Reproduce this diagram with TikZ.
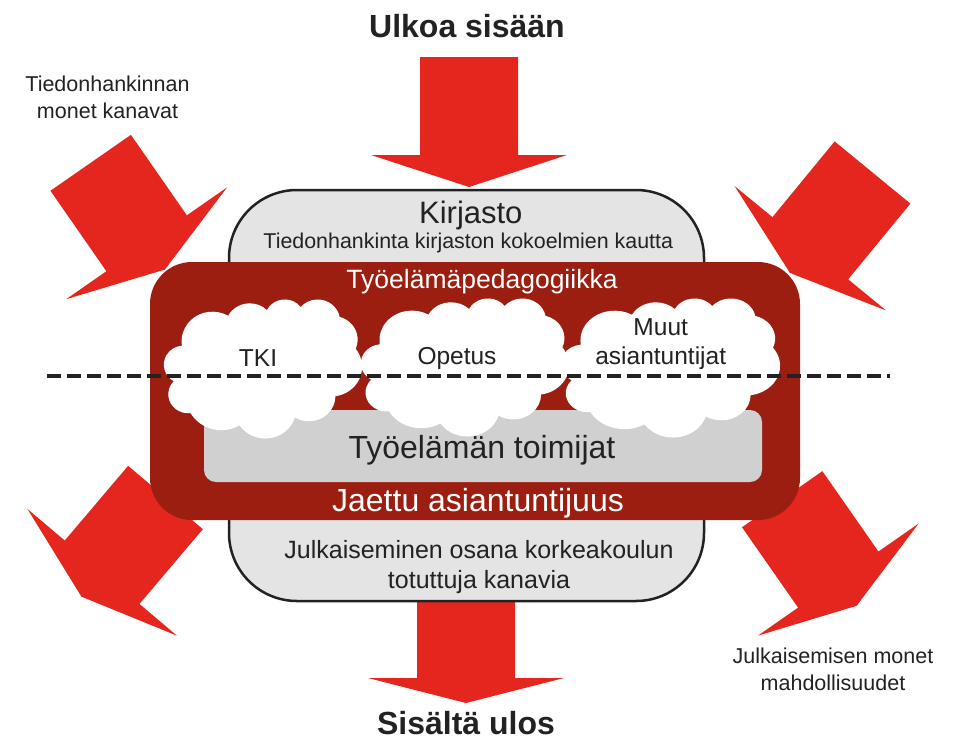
\documentclass[tikz,border=0pt]{standalone}
\usepackage{fontspec}
\setmainfont{Liberation Sans}
\definecolor{arrowred}{HTML}{E5261E}
\definecolor{darkred}{HTML}{9B1E10}
\definecolor{lightbox}{HTML}{E4E4E4}
\definecolor{innergray}{HTML}{D0D0D0}
\definecolor{ink}{HTML}{222222}
\tikzset{
  bigarrow/.style={fill=arrowred, draw=none},
  txt/.style={text=ink, inner sep=0pt, anchor=base},
  wtxt/.style={text=white, inner sep=0pt, anchor=base},
  cloudfill/.style={fill=white, draw=none},
  dashline/.style={draw=ink, line width=4.5pt, dash pattern=on 14pt off 6pt},
}
\newcommand{\fs}[1]{\fontsize{#1}{#1}\selectfont}
% arrow: tail centre (#1,#2), rotation #3, head height #4
\newcommand{\redarrow}[4]{%
  \begin{scope}[shift={(#1,#2)}, rotate=#3]
    \fill[bigarrow] (0,-49) -- (98,-49) -- (98,-98) -- (98+#4,0) -- (98,98) -- (98,49) -- (0,49) -- cycle;
  \end{scope}}
% cloud: top-left corner (#1,#2), width/100 #3, height/100 #4
\newcommand{\drawcloud}[4]{%
  \begin{scope}[shift={(#1,#2)}, x=#3pt, y=-#4pt]
    \fill[cloudfill] (9.028,33.264)
      arc[start angle=-187.75, end angle=-59.64, x radius=15.632, y radius=21.273]
      arc[start angle=-152.02, end angle=-45.45, x radius=12.345, y radius=16.822]
      arc[start angle=-153.49, end angle=-37.33, x radius=10.104, y radius=13.762]
      arc[start angle=-139.71, end angle=-10.22, x radius=11.243, y radius=15.266]
      arc[start angle=-74.77, end angle=23.21, x radius=12.345, y radius=16.836]
      arc[start angle=-37.53, end angle=81.86, x radius=15.683, y radius=21.343]
      arc[start angle=0.46, end angle=121.98, x radius=13.391, y radius=18.211]
      arc[start angle=16.84, end angle=146.24, x radius=15.630, y radius=21.331]
      arc[start angle=58.98, end angle=150.18, x radius=17.870, y radius=24.405]
      arc[start angle=-276.69, end angle=-136.88, x radius=10.093, y radius=13.699]
      arc[start angle=-239.65, end angle=-95.89, x radius=10.058, y radius=13.762]
      -- cycle;
  \end{scope}}
\begin{document}
\begin{tikzpicture}[x=1pt, y=-1pt]
\useasboundingbox (0,0) rectangle (953,740);
% arrows
\redarrow{469}{57}{-90}{32}
\redarrow{466}{580}{-90}{25}
\redarrow{90.7}{162.8}{-55.2}{32}
\redarrow{872.5}{172.5}{-129.4}{32}
\redarrow{165.5}{497.5}{-130.3}{32}
\redarrow{782.2}{499.2}{-55.1}{32}
% boxes
\draw[fill=lightbox, draw=ink, line width=2.5pt, rounded corners=68pt] (229,190) rectangle (704,601);
\fill[darkred, rounded corners=42pt] (150,262) rectangle (800,520);
\fill[innergray, rounded corners=12pt] (204,410) rectangle (762,482);
% clouds
\drawcloud{164}{299}{1.98}{1.39}
\drawcloud{361}{298}{2.08}{1.38}
\drawcloud{561}{298}{2.19}{1.39}
% texts
\node[txt, font=\bfseries\fs{32}] (top) at (467,37) {Ulkoa sisään};
\node[txt, font=\bfseries\fs{32}] (bottom) at (466,734.5) {Sisältä ulos};
\node[txt, font=\fs{21.5}] (tl1) at (107.5,91) {Tiedonhankinnan};
\node[txt, font=\fs{21.5}] (tl2) at (107.5,118.3) {monet kanavat};
\node[txt, font=\fs{21.5}] (br1) at (833,663.5) {Julkaisemisen monet};
\node[txt, font=\fs{21.5}] (br2) at (833,690.5) {mahdollisuudet};
\node[txt, font=\fs{31}] (kir) at (470.8,223.3) {Kirjasto};
\node[txt, font=\fs{21.4}] (kirsub) at (468.3,248.3) {Tiedonhankinta kirjaston kokoelmien kautta};
\node[wtxt, font=\fs{26.5}] (ped) at (482,288.3) {Työelämäpedagogiikka};
\node[txt, font=\fs{24.5}] (tki) at (258,366.7) {TKI};
\node[txt, font=\fs{24.5}] (ope) at (457,364) {Opetus};
\node[txt, font=\fs{24.5}] (muut1) at (660.7,335) {Muut};
\node[txt, font=\fs{24.5}] (muut2) at (660.7,364) {asiantuntijat};
\node[txt, font=\fs{32}] (toim) at (482,458.5) {Työelämän toimijat};
\node[wtxt, font=\fs{32}] (jaettu) at (478,511.5) {Jaettu asiantuntijuus};
\node[txt, font=\fs{25}] (julk1) at (479,558.3) {Julkaiseminen osana korkeakoulun};
\node[txt, font=\fs{25}] (julk2) at (479,588.3) {totuttuja kanavia};
% dashed line
\coordinate (dl) at (47,376);
\coordinate (dr) at (890,376);
\draw[dashline] (dl) -- (dr);
\end{tikzpicture}
\end{document}
